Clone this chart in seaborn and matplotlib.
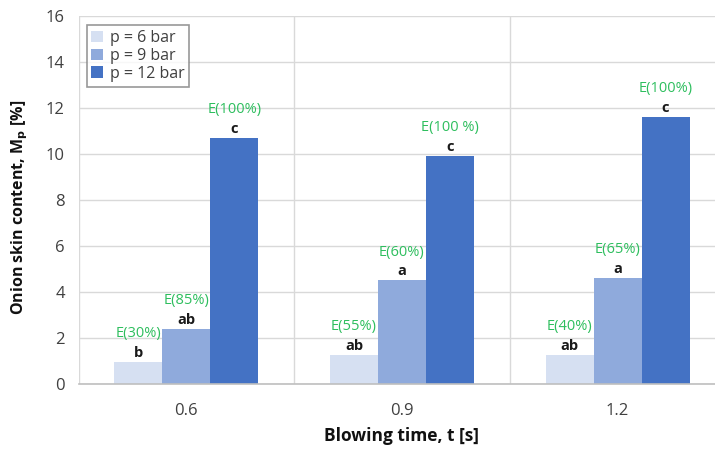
import matplotlib
matplotlib.use("Agg")
import matplotlib.pyplot as plt
import seaborn as sns
import pandas as pd

# ---- data ----
times = ["0.6", "0.9", "1.2"]
pressures = ["p = 6 bar", "p = 9 bar", "p = 12 bar"]
values_6 = [0.95, 1.26, 1.26]
values_9 = [2.4, 4.5, 4.6]
values_12 = [10.7, 9.9, 11.6]
letters_6 = ["b", "ab", "ab"]
letters_9 = ["ab", "a", "a"]
letters_12 = ["c", "c", "c"]
eff_6 = ["E(30%)", "E(55%)", "E(40%)"]
eff_9 = ["E(85%)", "E(60%)", "E(65%)"]
eff_12 = ["E(100%)", "E(100 %)", "E(100%)"]
y_ticks = [0, 2, 4, 6, 8, 10, 12, 14, 16]

colors = ["#D6E0F2", "#8FAADC", "#4472C4"]

rows = []
for p, vals in zip(pressures, [values_6, values_9, values_12]):
    for t, v in zip(times, vals):
        rows.append({"t": t, "p": p, "M": v})
df = pd.DataFrame(rows)

sns.set_theme(style="white")
plt.rcParams["font.family"] = ["Open Sans", "DejaVu Sans"]

fig = plt.figure(figsize=(7.15, 4.5), dpi=100)
ax = fig.add_axes([0.110, 0.1467, 1.0 - 0.110, 0.9644 - 0.1467])

sns.barplot(data=df, x="t", y="M", hue="p", order=times, hue_order=pressures,
            palette=colors, width=0.668, gap=0, saturation=1, ax=ax,
            edgecolor="none", linewidth=0, zorder=3)

ax.set_ylim(0, 16)
ax.set_yticks(y_ticks)
ax.set_xlim(-0.5, 2.452)

# grid
ax.yaxis.grid(True, color="#D9D9D9", linewidth=1.0, zorder=0)
for xv in [-0.5, 0.5, 1.5]:
    ax.axvline(xv, color="#D9D9D9", linewidth=1.0, zorder=0)
for s in ["top", "right", "left"]:
    ax.spines[s].set_visible(False)
ax.spines["bottom"].set_color("#BFBFBF")
ax.spines["bottom"].set_linewidth(1.2)
ax.spines["bottom"].set_zorder(4)

ax.tick_params(axis="y", length=0, pad=10, labelsize=12, labelcolor="#404040")
ax.tick_params(axis="x", length=0, pad=14, labelsize=12, labelcolor="#404040")

ax.set_xlabel("Blowing time, t [s]", fontsize=12.5, fontweight="bold", color="#111111")
ax.xaxis.set_label_coords((402 - 78.75) / (715 - 78.75), -0.118)
ax.set_ylabel(r"Onion skin content, M$_\mathbf{p}$ [%]", fontsize=11.5,
              fontweight="bold", color="#111111")
ax.yaxis.set_label_coords(-0.076, 0.48)

# annotations
letters = [letters_6, letters_9, letters_12]
effs = [eff_6, eff_9, eff_12]
for cont, lets, es in zip(ax.containers, letters, effs):
    for bar, l, e in zip(cont, lets, es):
        x = bar.get_x() + bar.get_width() / 2
        h = bar.get_height()
        ax.annotate(l, (x, h), xytext=(0, 1.5), textcoords="offset points",
                    ha="center", va="bottom", fontsize=10.5, fontweight="bold",
                    color="#1a1a1a")
        ax.annotate(e, (x, h), xytext=(0, 15), textcoords="offset points",
                    ha="center", va="bottom", fontsize=10.5, color="#2EBE5E")

leg = ax.legend(loc="upper left", bbox_to_anchor=(0.0125, 0.975), fontsize=11.5,
                frameon=True, fancybox=False, edgecolor="#7F7F7F",
                handlelength=0.75, handleheight=0.75, handletextpad=0.4,
                borderpad=0.3, labelspacing=0.12, borderaxespad=0)
leg.get_frame().set_linewidth(1.2)
for t in leg.get_texts():
    t.set_color("#404040")

fig.savefig("out.png", dpi=100)
